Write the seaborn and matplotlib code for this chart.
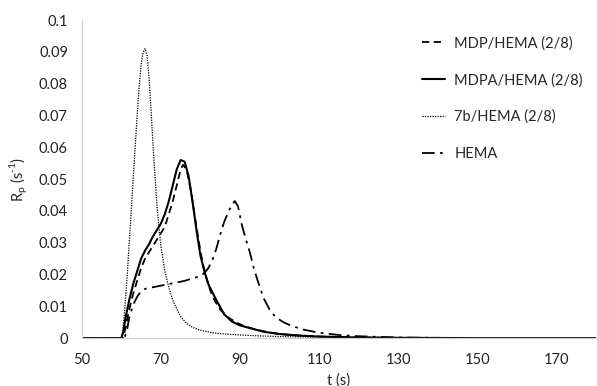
import matplotlib
matplotlib.use("Agg")
import matplotlib.pyplot as plt
import seaborn as sns
import pandas as pd

# curve data (t in s, Rp in 1/s)
mdp_t = [50, 60.5, 61, 62, 63, 64, 65, 66, 67, 68, 69, 70, 71, 72, 73, 74, 75, 75.6, 76.5, 77.5,
         78.5, 79.5, 80.5, 81.5, 82.5, 83.5, 85, 87, 89, 91, 94, 97, 100, 105, 110, 120, 130, 147]
mdp_rp = [0, 0, 0.003, 0.009, 0.014, 0.018, 0.022, 0.025, 0.027, 0.029, 0.031, 0.033, 0.035, 0.039,
          0.043, 0.048, 0.053, 0.0545, 0.053, 0.047, 0.039, 0.031, 0.024, 0.019, 0.015, 0.012, 0.009,
          0.0065, 0.005, 0.0038, 0.0027, 0.0019, 0.0013, 0.0008, 0.0005, 0.0002, 0.0001, 0]

mdpa_t = [50, 60, 60.5, 61, 62, 63, 64, 65, 66, 67, 68, 69, 70, 71, 72, 73, 74, 75, 76, 77, 78, 79,
          80, 81, 82, 83, 84, 86, 88, 90, 93, 96, 100, 105, 110, 120, 130, 150, 180]
mdpa_rp = [0, 0, 0.002, 0.006, 0.012, 0.017, 0.021, 0.025, 0.0275, 0.0295, 0.032, 0.034, 0.036, 0.039,
           0.043, 0.048, 0.053, 0.056, 0.0555, 0.051, 0.043, 0.034, 0.026, 0.021, 0.017, 0.0145, 0.012,
           0.0075, 0.0052, 0.004, 0.003, 0.002, 0.0013, 0.0008, 0.0005, 0.0002, 0.0001, 0, 0]

b7_t = [50, 60.2, 60.8, 61.5, 62, 62.5, 63, 63.5, 64, 64.5, 65, 65.5, 66, 66.5, 67, 67.5, 68, 68.5,
        69, 69.5, 70, 71, 72, 73, 74, 75, 76.5, 78, 80, 83, 86, 90, 95, 100, 110, 120, 147]
b7_rp = [0, 0, 0.008, 0.02, 0.03, 0.04, 0.05, 0.06, 0.07, 0.079, 0.086, 0.0898, 0.091, 0.089, 0.082,
         0.072, 0.061, 0.051, 0.042, 0.035, 0.029, 0.021, 0.016, 0.012, 0.0092, 0.0068, 0.0046, 0.0034,
         0.0025, 0.0017, 0.0013, 0.001, 0.0007, 0.0005, 0.0003, 0.0002, 0]

hema_t = [50, 60.8, 61.5, 62, 63, 64, 65, 66, 68, 70, 72, 74, 76, 78, 80, 81, 82, 83, 84, 85, 86, 87,
          88, 88.7, 89.5, 90.5, 91.5, 92.5, 93.5, 94.5, 96, 97.5, 99, 101, 103, 106, 110, 115, 120, 130, 147]
hema_rp = [0, 0, 0.003, 0.0065, 0.0105, 0.013, 0.0148, 0.0155, 0.016, 0.0165, 0.017, 0.0175, 0.018,
           0.0188, 0.0195, 0.0205, 0.022, 0.0245, 0.028, 0.0325, 0.0365, 0.0395, 0.042, 0.0431, 0.0415,
           0.0355, 0.031, 0.027, 0.022, 0.018, 0.0125, 0.009, 0.0066, 0.005, 0.0039, 0.0027, 0.0017,
           0.001, 0.0006, 0.0002, 0]

labels = ["MDP/HEMA (2/8)", "MDPA/HEMA (2/8)", "7b/HEMA (2/8)", "HEMA"]
x_ticks = [50, 70, 90, 110, 130, 150, 170]
y_ticks = [0, 0.01, 0.02, 0.03, 0.04, 0.05, 0.06, 0.07, 0.08, 0.09, 0.1]

sns.set_style("white")
plt.rcParams['font.family'] = ['Lato', 'DejaVu Sans']
plt.rcParams['mathtext.fontset'] = 'custom'
plt.rcParams['mathtext.rm'] = 'Lato'

fig, ax = plt.subplots(figsize=(5.97, 3.86), dpi=100)
fig.subplots_adjust(left=0.137, right=0.998, top=0.948, bottom=0.124)

series = [
    (mdp_t, mdp_rp, (0, (4, 2.5)), 1.3),
    (mdpa_t, mdpa_rp, '-', 1.5),
    (b7_t, b7_rp, (0, (1, 1)), 0.9),
    (hema_t, hema_rp, (0, (7, 3, 1.5, 3)), 1.3),
]
for (t, rp, ls, lw), lab in zip(series, labels):
    df = pd.DataFrame({'t': t, 'Rp': rp})
    sns.lineplot(data=df, x='t', y='Rp', ax=ax, color='black', linestyle=ls,
                 linewidth=lw, label=lab)

ax.set_xlim(50, 180)
ax.set_ylim(0, 0.1)
ax.set_xticks(x_ticks)
ax.set_yticks(y_ticks)
ax.set_yticklabels([f"{v:g}" for v in y_ticks])
ax.tick_params(axis='both', labelsize=10.5, colors='#c8c8c8', labelcolor='#222222',
               length=4, width=0.8, direction='out')
ax.tick_params(axis='x', pad=7)
ax.tick_params(axis='y', pad=6)
for side in ['top', 'right']:
    ax.spines[side].set_visible(False)
for side in ['left', 'bottom']:
    ax.spines[side].set_color('#d0d0d0')
    ax.spines[side].set_linewidth(0.9)

ax.set_xlabel('t (s)', fontsize=10.5, color='#222222', labelpad=4)
ax.set_ylabel(r'R$_\mathregular{p}$ (s$^{\text{-1}}$)', fontsize=10.5, color='#222222', labelpad=6)

ax.legend(loc='upper left', bbox_to_anchor=(0.662, 0.95), frameon=False, fontsize=10.5,
          handlelength=1.6, handletextpad=0.6, labelspacing=1.55, borderpad=0, borderaxespad=0)

fig.savefig('out.png', dpi=100)
